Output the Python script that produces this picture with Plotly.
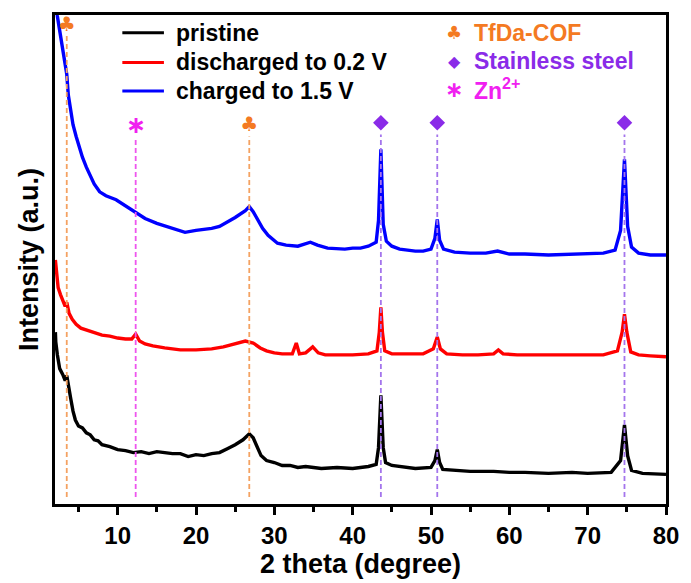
import plotly.graph_objects as go

# ---------------- data ----------------
two_theta_pristine = [2.05, 2.1, 2.3, 2.6, 3.0, 3.3, 3.5, 3.7, 4.0, 4.3, 4.6, 5.0, 5.5, 6.0, 6.5,
                      7.0, 7.5, 8.0, 9, 10, 11, 12, 13, 14, 15, 16, 17, 18, 19, 20, 21, 22, 23, 24,
                      25, 26, 26.8, 27.3, 27.8, 28.3, 29, 30, 31, 32, 33, 34, 35, 36, 38, 40, 42,
                      43.0, 43.3, 43.6, 43.9, 44.2, 45, 46, 48, 50, 50.5, 50.8, 51.1, 51.5, 53, 55,
                      58, 60, 62, 65, 68, 70, 73, 74.2, 74.7, 75.1, 75.6, 77, 80]
intensity_pristine = [174, 164, 151, 137, 131, 125, 130, 119, 107, 94, 85, 79, 77, 72, 70,
                      65, 64, 60, 58, 55, 54, 52, 53, 51, 53, 52, 51, 51, 48, 50, 49, 51, 52, 56,
                      60, 65, 71, 67, 57, 49, 44, 42, 39, 39, 37, 38, 37, 36, 37, 36, 38,
                      40, 57, 110, 57, 42, 39, 38, 36, 37, 44, 55, 42, 35, 34, 33,
                      33, 32, 32, 31, 32, 31, 32, 44, 80, 49, 34, 31, 30]

two_theta_discharged = [2.05, 2.2, 2.4, 2.7, 3.0, 3.3, 3.5, 3.8, 4.2, 4.7, 5.3, 6, 7, 8, 9, 10, 11,
                        11.8, 12.3, 12.8, 13.5, 14.5, 16, 17, 18, 20, 22, 23.5, 25, 26.3, 27.3,
                        28.2, 29, 30, 31, 32.3, 32.8, 33.2, 34, 34.9, 35.6, 36.5, 38, 40, 42, 43.1,
                        43.4, 43.6, 43.8, 44.1, 45, 47, 49, 50.3, 50.8, 51.2, 52, 54, 56, 58, 58.6,
                        59.2, 61, 64, 67, 70, 72, 73.8, 74.4, 74.7, 75.0, 75.5, 76.5, 78, 80]
intensity_discharged = [247, 234, 219, 212, 206, 200, 204, 193, 187, 182, 178, 176, 173, 171, 170, 168, 167,
                        167, 172, 165, 162, 160, 158, 157, 156, 156, 157, 159, 162, 165, 163,
                        158, 155, 153, 152, 152, 163, 152, 153, 159, 153, 151, 151, 151, 152, 155,
                        174, 199, 174, 155, 152, 152, 152, 157, 169, 157, 152, 151, 151, 152, 156,
                        152, 151, 151, 151, 151, 151, 155, 174, 192, 174, 154, 151, 150, 149]

two_theta_charged = [2.0, 2.3, 2.5, 2.8, 3.0, 3.3, 3.5, 3.7, 4.0, 4.3, 4.7, 5.0, 5.5, 6.0, 6.5, 7,
                     7.7, 8.5, 9.8, 11, 12.4, 13.5, 15, 16.9, 18.6, 20, 22, 23, 24.1, 25, 26.3,
                     26.8, 27.3, 27.9, 28.5, 29.2, 30.4, 31.5, 33, 34.6, 35.5, 36.8, 38, 39, 40,
                     41, 42, 43, 43.3, 43.6, 43.9, 44.3, 45, 46, 47, 48, 49, 50, 50.5, 50.8, 51.1,
                     51.6, 53, 55, 57, 58.5, 60, 62, 65, 68, 70, 72, 73.5, 74.2, 74.7, 75.1, 75.6,
                     76.5, 78, 80]
intensity_charged = [529, 494, 484, 469, 459, 443, 435, 414, 397, 384, 372, 364, 351, 341, 332, 324,
                     316, 312, 308, 302, 295, 289, 284, 279, 275, 277, 279, 281, 286, 290, 297,
                     301, 296, 287, 279, 272, 264, 262, 261, 265, 262, 259, 258, 258, 259,
                     259, 261, 265, 287, 359, 283, 266, 261, 258, 257, 256, 256, 258, 269, 288, 267,
                     258, 255, 254, 254, 256, 253, 253, 252, 253, 253, 254, 257, 277, 349, 281, 260,
                     254, 252, 252]

series_names = ["pristine", "discharged to 0.2 V", "charged to 1.5 V"]
series_colors = ["#000000", "#FF0000", "#0000FF"]

# reference peak positions
cof_peaks = [3.5, 26.8]
cof_marker_level = [484, 383]
steel_peaks = [43.6, 50.8, 74.7]
steel_marker_level = [386, 386, 386]
zn_peaks = [12.3]
zn_marker_level = [382]
drop_bottom = 7
cof_drop_top = [474, 372]
steel_drop_top = [374, 374, 374]
zn_drop_top = [371]

key_symbols = ["♣", "◆", "∗"]
key_labels = ["TfDa-COF", "Stainless steel", "Zn<sup>2+</sup>"]

ORANGE = "#F47A22"
PURPLE = "#8A2BE8"
MAGENTA = "#F020F0"
ORANGE_D = "#F4A262"
PURPLE_D = "#A475EC"
MAGENTA_D = "#EE55EE"
key_colors = [ORANGE, PURPLE, MAGENTA]
key_symbol_sizes = [18, 16, 22]

FONT = "Liberation Sans, Arial, sans-serif"

fig = go.Figure()

for xs, ys, nm, col in zip([two_theta_pristine, two_theta_discharged, two_theta_charged],
                           [intensity_pristine, intensity_discharged, intensity_charged],
                           series_names, series_colors):
    fig.add_trace(go.Scatter(x=xs, y=ys, mode="lines", name=nm, showlegend=False,
                             line=dict(color=col, width=3.4), hoverinfo="skip"))

def drops(xs, tops, col):
    for xv, tv in zip(xs, tops):
        fig.add_trace(go.Scatter(x=[xv, xv], y=[drop_bottom, tv], mode="lines",
                                 line=dict(color=col, width=1.8, dash="5px,3px"),
                                 showlegend=False, hoverinfo="skip"))

drops(cof_peaks, cof_drop_top, ORANGE_D)
drops(steel_peaks, steel_drop_top, PURPLE_D)
drops(zn_peaks, zn_drop_top, MAGENTA_D)

fig.add_trace(go.Scatter(x=cof_peaks, y=cof_marker_level, mode="text",
                         text=["♣"] * len(cof_peaks),
                         textfont=dict(color=ORANGE, size=20, family="DejaVu Sans"),
                         showlegend=False, hoverinfo="skip", cliponaxis=False))
fig.add_trace(go.Scatter(x=steel_peaks, y=steel_marker_level, mode="markers",
                         marker=dict(symbol="diamond", size=12, color=PURPLE),
                         showlegend=False, hoverinfo="skip"))
fig.add_trace(go.Scatter(x=zn_peaks, y=zn_marker_level, mode="text",
                         text=["∗"], textfont=dict(color=MAGENTA, size=24, family="DejaVu Sans", weight="bold"),
                         showlegend=False, hoverinfo="skip"))

# ---------------- keys (drawn in paper space) ----------------
L, R, T, B = 55, 19, 14, 74
W, H = 691, 583
pw, ph = W - L - R, H - T - B
def px(x):
    return (x - L) / pw
def py(y):
    return (H - B - y) / ph

left_key_rows = [32, 62, 91]
right_key_rows = [32, 61, 89]

anns = []
shapes = []
for nm, col, yc in zip(series_names, series_colors, left_key_rows):
    shapes.append(dict(type="line", xref="paper", yref="paper",
                       x0=px(123), x1=px(165), y0=py(yc), y1=py(yc),
                       line=dict(color=col, width=3)))
    anns.append(dict(x=px(175), y=py(yc), xref="paper", yref="paper", text=nm,
                     showarrow=False, xanchor="left", yanchor="middle",
                     font=dict(color="black", size=23, family=FONT, weight="bold")))

for sym, label, col, yc, ss in zip(key_symbols, key_labels, key_colors, right_key_rows, key_symbol_sizes):
    anns.append(dict(x=px(458), y=py(yc), xref="paper", yref="paper", text=sym,
                     showarrow=False, xanchor="center", yanchor="middle",
                     font=dict(color=col, size=ss, family="DejaVu Sans", weight="bold")))
    anns.append(dict(x=px(476), y=py(yc), xref="paper", yref="paper", text=label,
                     showarrow=False, xanchor="left", yanchor="middle",
                     font=dict(color=col, size=23, family=FONT, weight="bold")))

fig.update_layout(
    width=W, height=H,
    margin=dict(l=L, r=R, t=T, b=B),
    paper_bgcolor="white", plot_bgcolor="white",
    font=dict(family=FONT, color="black"),
    showlegend=False,
    annotations=anns,
    shapes=shapes,
    xaxis=dict(range=[2, 80], tickmode="array", tickvals=[10, 20, 30, 40, 50, 60, 70, 80],
               ticks="outside", ticklen=8, tickwidth=2.5, tickcolor="black",
               showline=True, linewidth=2.5, linecolor="black", mirror=True,
               showgrid=False, zeroline=False,
               minor=dict(tickmode="array", tickvals=[5, 15, 25, 35, 45, 55, 65, 75],
                          ticks="outside", ticklen=5, tickwidth=2.5, tickcolor="black"),
               tickfont=dict(size=24, family=FONT, weight="bold"),
               title=dict(text="2 theta (degree)", font=dict(size=27, family=FONT, weight="bold"),
                          standoff=4)),
    yaxis=dict(range=[0, 495], showticklabels=False, ticks="",
               showline=True, linewidth=2.5, linecolor="black", mirror=True,
               showgrid=False, zeroline=False,
               title=dict(text="Intensity (a.u.)", font=dict(size=27, family=FONT, weight="bold"),
                          standoff=6)),
)

fig.write_html("out.html")
